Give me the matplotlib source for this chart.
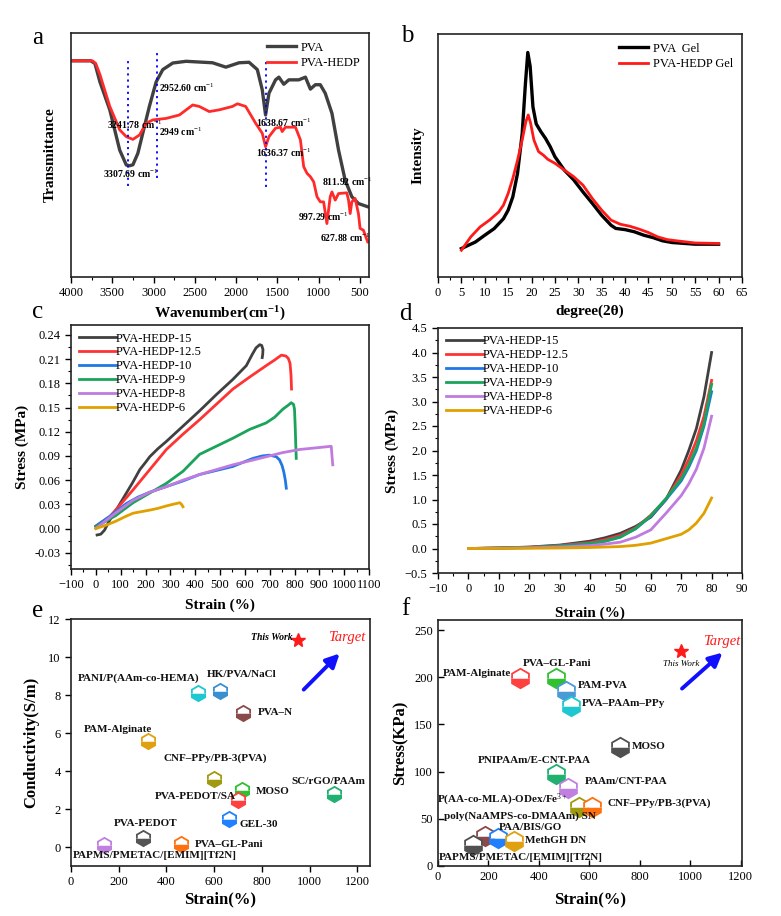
import matplotlib
matplotlib.use("Agg")
import matplotlib.pyplot as plt
from matplotlib.ticker import MultipleLocator

plt.rcParams['font.family'] = ['Liberation Serif', 'DejaVu Serif']
plt.rcParams['mathtext.fontset'] = 'custom'
plt.rcParams['mathtext.rm'] = 'Liberation Serif'
plt.rcParams['mathtext.bf'] = 'Liberation Serif:bold'
plt.rcParams['mathtext.it'] = 'Liberation Serif:italic'

# ---------------- Panel a: FTIR ----------------
ftir_pva_wn = [4000, 3760, 3710, 3650, 3530, 3410, 3330, 3290, 3250, 3190, 3130, 3050, 2968, 2888, 2767,
               2606, 2285, 2124, 1964, 1843, 1743, 1683, 1643, 1602, 1522, 1482, 1422, 1361, 1241, 1160,
               1100, 1040, 980, 920, 839, 759, 679, 598, 518, 406]
ftir_pva_t = [88.6, 88.6, 87.5, 80, 68.5, 52, 45.9, 45.6, 46, 50.7, 59, 70, 80, 85, 87.7,
              88.4, 87.8, 86, 87.8, 88, 85, 76.7, 66.4, 75.3, 80.8, 81.9, 79, 80.8, 80.8, 81.9,
              77, 78.8, 78.8, 75.3, 67.1, 52, 39.7, 32.9, 30.1, 28.8]
ftir_hedp_wn = [4000, 3740, 3700, 3650, 3530, 3410, 3330, 3250, 3170, 3090, 3008, 2847, 2687, 2526, 2446,
                2325, 2205, 2044, 1984, 1884, 1763, 1683, 1643, 1602, 1522, 1462, 1442, 1402, 1281, 1221,
                1181, 1141, 1100, 1060, 1020, 980, 940, 900, 860, 839, 799, 759, 659, 638, 618,
                598, 558, 518, 498, 458, 406]
ftir_hedp_t = [88.6, 88.6, 87.5, 83, 69.9, 60.3, 57.5, 56.4, 58.2, 63, 64.4, 65, 66.4, 70.5, 69.9,
               67.8, 68.5, 69.9, 71, 69.9, 63, 58.9, 53.4, 57.5, 61, 61.4, 59.6, 61.4, 61.4, 56.2,
               45.2, 42.5, 41.1, 39, 32.9, 30.8, 30.8, 21.9, 32.9, 34.9, 31.5, 34.2, 34.5, 31.5, 26,
               30.8, 32.2, 26, 19.9, 19.2, 14.4]
ftir_vlines = [3307.69, 2952.60, 1636.37]
ftir_vline_top = [88.6, 91.8, 88.6]
ftir_vline_bot = [37.4, 40.4, 37.0]
ftir_notes = ["2952.60 cm$^{-1}$", "3241.78 cm$^{-1}$", "2949 cm$^{-1}$", "3307.69 cm$^{-1}$",
              "1638.67 cm$^{-1}$", "1636.37 cm$^{-1}$", "811.92 cm$^{-1}$", "997.29 cm$^{-1}$",
              "627.88 cm$^{-1}$"]
ftir_note_x = [2930, 3560, 2930, 3610, 1755, 1760, 955, 1245, 985]
ftir_note_y = [77.5, 62.3, 59.6, 42.5, 63.3, 50.7, 39.0, 24.7, 16.0]

# ---------------- Panel b: XRD ----------------
xrd_pva_x = [5, 8, 10, 12, 14, 15, 16, 17, 18, 18.7, 19.2, 19.7, 20.3, 21, 22, 23, 24, 25, 27, 29, 31,
             33, 35, 37, 38, 40, 42, 44, 46, 48, 50, 55, 60]
xrd_pva_y = [11.7, 14.4, 17.2, 19.9, 24, 27.5, 33, 42.6, 59, 79.8, 92.4, 86.7, 70, 63, 59.8, 57, 53.6,
             49.5, 44, 40, 35, 30.3, 25.4, 21.3, 20, 19.5, 18.6, 17.2, 16.2, 14.9, 14.2, 13.5, 13.5]
xrd_hedp_x = [5, 7, 9, 11, 13, 14, 15, 16, 17, 18, 18.8, 19.3, 19.8, 20.5, 21.5, 22.5, 23.5, 25, 27, 29,
              31, 33, 35, 37, 39, 41, 43, 45, 47, 49, 51, 55, 60]
xrd_hedp_y = [11, 16.5, 20.6, 23.4, 26.8, 29.6, 34.4, 40.6, 48, 56.4, 64, 66.7, 63.3, 56.4, 51.6, 50.2,
              48.4, 46.8, 44, 41.3, 37.8, 32.3, 27.5, 23.4, 21.7, 20.9, 19.7, 18.3, 16.5, 15.4, 14.9, 14,
              13.8]

# ---------------- Panel c: tensile ----------------
c_labels = ["PVA-HEDP-15", "PVA-HEDP-12.5", "PVA-HEDP-10", "PVA-HEDP-9", "PVA-HEDP-8", "PVA-HEDP-6"]
c_colors = ["#404040", "#ff3333", "#1f78e6", "#1aa35a", "#c07be0", "#e0a000"]
c15_x = [5, 20, 35, 56, 90, 123, 150, 177, 200, 217, 250, 284, 351, 418, 485, 552, 606, 630, 645, 660,
         668, 673, 672, 670]
c15_y = [-0.008, -0.007, -0.002, 0.0105, 0.027, 0.044, 0.058, 0.073, 0.082, 0.089, 0.099, 0.108, 0.127,
         0.146, 0.166, 0.185, 0.202, 0.216, 0.224, 0.228, 0.227, 0.222, 0.216, 0.212]
c125_x = [0, 56, 100, 150, 217, 284, 351, 418, 485, 552, 620, 686, 720, 747, 765, 775, 782, 786, 788]
c125_y = [0.003, 0.0147, 0.03, 0.048, 0.073, 0.098, 0.117, 0.135, 0.154, 0.173, 0.188, 0.202, 0.209,
          0.215, 0.214, 0.211, 0.205, 0.19, 0.173]
c10_x = [0, 60, 123, 170, 217, 284, 351, 418, 485, 552, 600, 633, 670, 700, 727, 740, 750, 757, 763, 767]
c10_y = [0.003, 0.016, 0.031, 0.039, 0.045, 0.052, 0.059, 0.067, 0.072, 0.077, 0.083, 0.087, 0.09,
         0.091, 0.089, 0.085, 0.078, 0.07, 0.06, 0.05]
c9_x = [0, 80, 150, 217, 284, 351, 418, 485, 552, 620, 686, 720, 753, 775, 787, 796, 800, 803, 805, 807]
c9_y = [0.002, 0.016, 0.032, 0.044, 0.056, 0.071, 0.092, 0.102, 0.112, 0.123, 0.131, 0.138, 0.148, 0.153,
        0.156, 0.154, 0.148, 0.125, 0.105, 0.087]
c8_x = [0, 70, 150, 217, 284, 351, 418, 485, 552, 620, 686, 750, 820, 885, 948, 951, 954]
c8_y = [0.0, 0.017, 0.035, 0.045, 0.052, 0.06, 0.067, 0.073, 0.079, 0.084, 0.089, 0.094, 0.098, 0.1,
        0.102, 0.09, 0.079]
c6_x = [0, 40, 80, 120, 150, 185, 220, 250, 284, 310, 338, 345, 351]
c6_y = [0.0, 0.004, 0.009, 0.015, 0.019, 0.021, 0.023, 0.025, 0.028, 0.03, 0.032, 0.03, 0.027]
c_xs = [c15_x, c125_x, c10_x, c9_x, c8_x, c6_x]
c_ys = [c15_y, c125_y, c10_y, c9_y, c8_y, c6_y]

# ---------------- Panel d: compression ----------------
d_strain = [0, 10, 20, 30, 40, 45, 50, 55, 60, 65, 70, 72.5, 75, 77.5, 80]
d15_y = [0, 0.01, 0.03, 0.07, 0.15, 0.22, 0.31, 0.45, 0.64, 1.0, 1.6, 2.0, 2.45, 3.1, 4.0]
d125_y = [0, 0.01, 0.025, 0.06, 0.12, 0.18, 0.27, 0.42, 0.68, 1.0, 1.5, 1.82, 2.2, 2.7, 3.43]
d10_y = [0, 0.008, 0.02, 0.05, 0.1, 0.15, 0.24, 0.4, 0.66, 1.0, 1.38, 1.66, 2.0, 2.5, 3.2]
d9_y = [0, 0.008, 0.02, 0.05, 0.1, 0.15, 0.23, 0.41, 0.67, 1.02, 1.42, 1.7, 2.05, 2.55, 3.35]
d8_y = [0, 0.005, 0.015, 0.03, 0.06, 0.09, 0.13, 0.23, 0.38, 0.72, 1.08, 1.32, 1.62, 2.05, 2.7]
d6_y = [0, 0.002, 0.005, 0.01, 0.02, 0.03, 0.04, 0.065, 0.11, 0.2, 0.29, 0.38, 0.52, 0.72, 1.03]
d_ys = [d15_y, d125_y, d10_y, d9_y, d8_y, d6_y]

# ---------------- Panel e: conductivity comparison ----------------
e_names = ["PANI/P(AAm-co-HEMA)", "HK/PVA/NaCl", "PVA\u2013N", "PAM-Alginate", "CNF\u2013PPy/PB-3(PVA)",
           "MOSO", "PVA-PEDOT/SA", "SC/rGO/PAAm", "GEL-30", "PVA-PEDOT", "PVA\u2013GL-Pani",
           "PAPMS/PMETAC/[EMIM][Tf2N]"]
e_strain = [531, 624, 722, 321, 600, 718, 701, 1102, 662, 300, 461, 140]
e_cond = [8.13, 8.23, 7.07, 5.6, 3.6, 2.99, 2.5, 2.78, 1.5, 0.5, 0.14, 0.12]
e_colors = ["#1ec8d0", "#3a8fd0", "#8b4a4a", "#e0a010", "#a09a10", "#30c030", "#ff4040", "#20b070",
            "#2080ff", "#555555", "#ff7010", "#c080e0"]
e_label_x = [282, 715, 781, 198, 603, 775, 520, 1078, 708, 313, 517, 352]
e_label_y = [8.9, 9.1, 7.07, 6.2, 4.66, 2.9, 2.67, 3.47, 1.2, 1.23, 0.14, -0.47]
e_label_ha = ["center", "center", "left", "center", "center", "left", "center", "center", "left",
              "center", "left", "center"]
e_this_work = (950, 10.9)

# ---------------- Panel f: stress comparison ----------------
f_marker_strain = [325, 467, 507, 529, 723, 469, 516, 560, 609, 185, 239, 303, 140]
f_marker_stress = [199, 199.6, 185, 169.7, 126, 97, 83, 63, 63, 32, 29.8, 27, 22.7]
f_colors = ["#ff4040", "#30c030", "#4a9ad8", "#1ec8d0", "#505050", "#20b070", "#c080e0", "#a09a10",
            "#ff7010", "#8b4a4a", "#2080ff", "#e0a010", "#505050"]
f_names = ["PAM-Alginate", "PVA\u2013GL-Pani", "PAM-PVA", "PVA\u2013PAAm\u2013PPy", "MOSO",
           "PNIPAAm/E-CNT-PAA", "PAAm/CNT-PAA", "P(AA-co-MLA)-ODex/Fe$^{3+}$",
           "CNF\u2013PPy/PB-3(PVA)", "poly(NaAMPS-co-DMAAm) SN", "PAA/BIS/GO", "MethGH DN",
           "PAPMS/PMETAC/[EMIM][Tf2N]"]
f_label_x = [289, 472, 556, 572, 769, 383, 580, 256, 673, 323, 366, 343, 329]
f_label_y = [204, 214.8, 191, 172.5, 127, 112, 90, 70, 66.7, 52.5, 41, 27, 9.2]
f_label_ha = ["right", "center", "left", "left", "left", "center", "left", "center", "left",
              "center", "center", "left", "center"]
f_this_work = (965, 228)

W, H = 781, 916
fig = plt.figure(figsize=(W / 100, H / 100), dpi=100)


def add_ax(l, r, t, b):
    a = fig.add_axes([l / W, 1 - b / H, (r - l) / W, (b - t) / H])
    a.set_facecolor('none')
    return a


TICK_FS = 9
LAB_FS = 11


def style(ax, direction='out'):
    ax.tick_params(which='both', direction=direction, labelsize=TICK_FS, top=False, right=False)
    ax.tick_params(which='major', length=4, width=1)
    ax.tick_params(which='minor', length=2.5, width=0.8)
    for s in ax.spines.values():
        s.set_linewidth(1.2)
        s.set_color('#222222')


# ---- a ----
ax = add_ax(71, 369, 33, 277)
ax.plot(ftir_pva_wn, ftir_pva_t, color='#404040', lw=2.4, label='PVA')
ax.plot(ftir_hedp_wn, ftir_hedp_t, color='#ff2a2a', lw=2.0, label='PVA-HEDP')
for xv, yt, yb in zip(ftir_vlines, ftir_vline_top, ftir_vline_bot):
    ax.plot([xv, xv], [yb, yt], color='blue', lw=1.3, ls=(0, (1.2, 2.2)))
for t, xv, yv in zip(ftir_notes, ftir_note_x, ftir_note_y):
    ax.text(xv, yv, t, fontsize=7, fontweight='bold', ha='left', va='center')
ax.set_xlim(4000, 390)
ax.set_ylim(0, 100)
ax.set_yticks([])
ax.xaxis.set_major_locator(MultipleLocator(500))
ax.xaxis.set_minor_locator(MultipleLocator(250))
style(ax)
ax.set_xlabel('Wavenumber(cm$^{\\mathbf{-1}}$)', fontsize=LAB_FS, fontweight='bold', labelpad=4)
ax.set_ylabel('Transmittance', fontsize=LAB_FS, fontweight='bold', labelpad=10)
ax.legend(loc='upper right', frameon=False, fontsize=9, handlelength=2.3, borderaxespad=0.3,
          labelspacing=0.25, handletextpad=0.4)

# ---- b ----
ax = add_ax(438, 742, 34, 277)
ax.plot(xrd_pva_x, xrd_pva_y, color='black', lw=2.4, label='PVA  Gel')
ax.plot(xrd_hedp_x, xrd_hedp_y, color='#ff1a1a', lw=2.0, label='PVA-HEDP Gel')
ax.set_xlim(0, 65)
ax.set_ylim(0, 100)
ax.set_yticks([])
ax.xaxis.set_major_locator(MultipleLocator(5))
ax.xaxis.set_minor_locator(MultipleLocator(2.5))
style(ax)
ax.set_xlabel('degree(2\u03b8)', fontsize=LAB_FS, fontweight='bold', labelpad=4)
ax.set_ylabel('Intensity', fontsize=LAB_FS, fontweight='bold', labelpad=10)
ax.legend(loc='upper right', frameon=False, fontsize=9, handlelength=2.3, borderaxespad=0.3,
          labelspacing=0.25, handletextpad=0.4)

# ---- c ----
ax = add_ax(71, 369, 325, 569)
for xs, ys, col, lab in zip(c_xs, c_ys, c_colors, c_labels):
    ax.plot(xs, ys, color=col, lw=2.0, label=lab)
ax.set_xlim(-100, 1100)
ax.set_ylim(-0.0502, 0.2524)
ax.xaxis.set_major_locator(MultipleLocator(100))
ax.xaxis.set_minor_locator(MultipleLocator(50))
ax.yaxis.set_minor_locator(MultipleLocator(0.015))
ax.set_yticks([-0.03 + 0.03 * i for i in range(10)])
ax.set_yticklabels(['%.2f' % (-0.03 + 0.03 * i) for i in range(10)])
style(ax)
ax.set_xlabel('Strain (%)', fontsize=LAB_FS, fontweight='bold', labelpad=5)
ax.set_ylabel('Stress (MPa)', fontsize=LAB_FS, fontweight='bold', labelpad=4)
ax.legend(loc='upper left', frameon=False, fontsize=9, handlelength=3.0, borderaxespad=0.2,
          labelspacing=0.15, handletextpad=0.0)

# ---- d ----
ax = add_ax(438, 742, 328, 573)
for ys, col, lab in zip(d_ys, c_colors, c_labels):
    ax.plot(d_strain, ys, color=col, lw=2.0, label=lab)
ax.set_xlim(-10, 90)
ax.set_ylim(-0.5, 4.5)
ax.xaxis.set_major_locator(MultipleLocator(10))
ax.xaxis.set_minor_locator(MultipleLocator(5))
ax.yaxis.set_major_locator(MultipleLocator(0.5))
ax.yaxis.set_minor_locator(MultipleLocator(0.25))
style(ax)
ax.set_xlabel('Strain (%)', fontsize=LAB_FS, fontweight='bold', labelpad=8)
ax.set_ylabel('Stress (MPa)', fontsize=LAB_FS, fontweight='bold', labelpad=4)
ax.legend(loc='upper left', frameon=False, fontsize=9, handlelength=3.0, borderaxespad=0.2,
          labelspacing=0.15, handletextpad=0.0)

# ---- e ----
ax = add_ax(71, 370, 619, 866)
for xv, yv, col in zip(e_strain, e_cond, e_colors):
    ax.plot([xv], [yv], marker='h', ms=11, fillstyle='bottom', markerfacecolor=col,
            markerfacecoloralt='white', markeredgecolor=col, markeredgewidth=1.3, ls='none')
for n, xv, yv, ha in zip(e_names, e_label_x, e_label_y, e_label_ha):
    ax.text(xv, yv, n, fontsize=8, fontweight='bold', ha=ha, va='center', color='#111111')
ax.plot([e_this_work[0]], [e_this_work[1]], marker='*', ms=10, color='#ff1a1a', ls='none')
ax.text(e_this_work[0] - 20, e_this_work[1] + 0.15, 'This Work', fontsize=7, fontweight='bold',
        style='italic', ha='right', va='center')
ax.text(1155, 11.05, 'Target', fontsize=10.5, style='italic', color='#ff1a1a', ha='center', va='center')
ax.annotate('', xy=(1134, 10.29), xytext=(967, 8.18),
            arrowprops=dict(arrowstyle='-|>,head_length=0.8,head_width=0.4', color='#1010ff', lw=2.8))
ax.set_xlim(0, 1253)
ax.set_ylim(-1, 12)
ax.xaxis.set_major_locator(MultipleLocator(200))
ax.yaxis.set_major_locator(MultipleLocator(2))
style(ax)
ax.set_xlabel('Strain(%)', fontsize=LAB_FS + 1, fontweight='bold', labelpad=2)
ax.set_ylabel('Conductivity(S/m)', fontsize=LAB_FS + 1, fontweight='bold', labelpad=6)

# ---- f ----
ax = add_ax(438, 742, 620, 866)
for xv, yv, col in zip(f_marker_strain, f_marker_stress, f_colors):
    ax.plot([xv], [yv], marker='h', ms=14, fillstyle='bottom', markerfacecolor=col,
            markerfacecoloralt='white', markeredgecolor=col, markeredgewidth=1.3, ls='none')
for n, xv, yv, ha in zip(f_names, f_label_x, f_label_y, f_label_ha):
    ax.text(xv, yv, n, fontsize=8, fontweight='bold', ha=ha, va='center', color='#111111')
ax.plot([f_this_work[0]], [f_this_work[1]], marker='*', ms=10, color='#ff1a1a', ls='none')
ax.text(f_this_work[0], f_this_work[1] - 14, 'This Work', fontsize=6.5, style='italic',
        ha='center', va='center')
ax.text(1126, 237.7, 'Target', fontsize=10.5, style='italic', color='#ff1a1a', ha='center', va='center')
ax.annotate('', xy=(1136, 228), xytext=(959, 186),
            arrowprops=dict(arrowstyle='-|>,head_length=0.8,head_width=0.4', color='#1010ff', lw=2.8))
ax.set_xlim(0, 1205)
ax.set_ylim(0, 260.6)
ax.xaxis.set_major_locator(MultipleLocator(200))
ax.yaxis.set_major_locator(MultipleLocator(50))
style(ax, direction='in')
ax.set_xlabel('Strain(%)', fontsize=LAB_FS + 1, fontweight='bold', labelpad=6)
ax.set_ylabel('Stress(KPa)', fontsize=LAB_FS + 1, fontweight='bold', labelpad=4)

# panel letters
for letter, px, py in [('a', 38, 38), ('b', 407, 36), ('c', 38, 312), ('d', 405, 314),
                       ('e', 38, 611), ('f', 405, 609)]:
    fig.text(px / W, 1 - py / H, letter, fontsize=18, ha='center', va='center')

fig.savefig('out.png', dpi=100)
